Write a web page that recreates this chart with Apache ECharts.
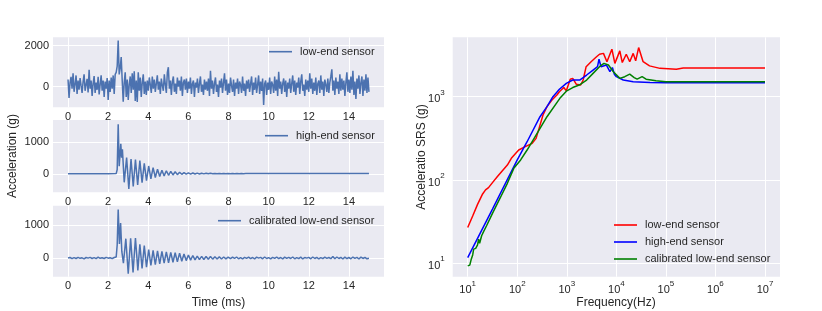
<!DOCTYPE html>
<html><head><meta charset="utf-8">
<script src="https://cdn.jsdelivr.net/npm/echarts@6/dist/echarts.min.js"></script>
<style>html,body{margin:0;padding:0;background:#fff}#c{width:822px;height:311px}</style>
</head><body><div id="c"></div>
<script>
// ---------- data ----------
const timeTicks = [0, 2, 4, 6, 8, 10, 12, 14];
const lowTicks = [0, 2000];
const highTicks = [0, 1000];
const calTicks = [0, 1000];
const freqExpTicks = [1, 2, 3, 4, 5, 6, 7];
const accExpTicks = [1, 2, 3];

// low-end sensor, sampled every 0.05 ms from 0 to 15 ms
const lowStep = 0.05;
const lowEnd = [
  350, -550, 200, 480, -100, 650, -250, 120, 550, -350, 300, -150, 420, 50, -300, 250, 600, -200, 100, 380,
  -280, 820, -100, 300, -450, 150, 520, -300, 200, -150, 480, -380, 100, 560, -200, 300, -500, 250, -100, 420,
  -650, 300, -250, 450, -100, 550, -350, 600, 700, 1000, 2250, 600, 900, 1450, 300, -730, 200, 700, -500, 350,
  -650, 100, 500, -300, 650, -150, 750, -700, 300, -750, 700, -200, 450, -500, 200, 600, -350, 250, -400, 300,
  -200, 450, 100, -300, 500, -100, 350, -250, 150, 550, -150, 250, -350, 400, 50, -200, 600, 100, -300, 700,
  950, -100, 300, -400, 250, 500, -250, 150, -350, 450, 0, 300, -200, 500, -450, 200, 350, -150, 400, -300,
  250, -100, 450, -350, 150, 300, -500, 200, -50, 400, -300, 150, 500, -250, 100, -400, 350, -150, 250, -200,
  400, -450, 780, -100, 300, -350, 150, 450, -250, 100, -500, 300, -50, 400, -300, 200, 650, -200, 350, -400,
  150, -300, 450, 50, -250, 350, -450, 200, -100, 400, -350, 250, 100, -300, 500, -200, 150, -450, 300, -100,
  350, -250, 150, 500, -400, 200, -150, 450, -300, 100, 550, -350, 250, -200, 400, -890, 150, 300, -400, 200,
  -150, 450, -350, 250, 100, -300, 500, -200, 350, -450, 730, -100, 250, -350, 150, 400, -250, 300, -500, 200,
  -100, 400, -300, 150, 550, -250, 300, -400, 200, -50, 450, -350, 250, 600, -200, 100, -450, 350, -150, 300,
  -250, 650, -100, 400, -350, 200, -200, 450, -400, 150, 300, -300, 550, -150, 250, -450, 350, 100, -250, 400,
  -300, 200, 500, 850, -200, 300, -400, 450, -100, 250, -350, 600, -200, 400, -150, 300, -450, 200, 700, -250,
  350, -300, 500, -150, 780, -400, 250, -600, 400, -100, 550, -350, 200, 500, -450, 350, -200, 600, -300, 450,
  -250
];

// high-end sensor (time ms, acceleration g)
const highTime = [0, 0.5, 1, 1.5, 2, 2.4, 2.45, 2.50, 2.55, 2.63, 2.67, 2.71, 2.80, 2.92, 3.03, 3.14, 3.25, 3.36, 3.47, 3.58,
  3.69, 3.80, 3.91, 4.02, 4.13, 4.24, 4.35, 4.46, 4.57, 4.68, 4.79, 4.90, 5.01, 5.12, 5.23, 5.34, 5.45, 5.56, 5.67, 5.78,
  5.89, 6.00, 6.11, 6.22, 6.33, 6.44, 6.55, 6.66, 6.77, 6.88, 6.99, 7.10, 7.21, 7.32, 7.43, 7.54, 7.65, 7.76, 7.87, 7.98,
  8.09, 8.20, 8.31, 8.42, 8.53, 8.64, 8.75, 8.86, 9.0, 10, 11, 12, 13, 14, 15];
const highAcc = [20, 20, 20, 20, 20, 22, 150, 1560, 250, 950, 520, 780, -250, 520, -460, 480, -380, 460, -330, 430,
  -260, 340, -200, 260, -140, 210, -100, 160, -70, 130, -50, 110, -30, 90, -20, 80, -10, 65, 0, 55,
  5, 48, 8, 42, 10, 38, 12, 34, 14, 32, 15, 30, 16, 28, 17, 27, 18, 26, 19, 25,
  19, 24, 20, 24, 20, 23, 21, 23, 22, 22, 22, 22, 22, 22, 22];

// calibrated low-end sensor (time ms, acceleration g)
const calTime = [0, 0.1, 0.2, 0.3, 0.4, 0.5, 0.6, 0.7, 0.8, 0.9, 1.0, 1.1, 1.2, 1.3, 1.4, 1.5, 1.6, 1.7, 1.8, 1.9, 2.0, 2.1, 2.2, 2.3,
  2.40, 2.45, 2.50, 2.56, 2.62, 2.68, 2.76, 2.88, 3.00, 3.12, 3.24, 3.36, 3.48, 3.58, 3.69, 3.80, 3.91,
  4.02, 4.13, 4.24, 4.35, 4.46, 4.57, 4.68, 4.79, 4.90, 5.01, 5.12, 5.23, 5.34, 5.45, 5.56, 5.67, 5.78, 5.89, 6.00, 6.11,
  6.22, 6.33, 6.44, 6.55, 6.66, 6.77, 6.88, 6.99, 7.10, 7.21, 7.32, 7.43, 7.54, 7.65, 7.76, 7.87, 7.98,
  8.1, 8.2, 8.3, 8.4, 8.5, 8.6, 8.7, 8.8, 8.9, 9.0, 9.1, 9.2, 9.3, 9.4, 9.5, 9.6, 9.7, 9.8, 9.9, 10.0,
  10.1, 10.2, 10.3, 10.4, 10.5, 10.6, 10.7, 10.8, 10.9, 11.0, 11.1, 11.2, 11.3, 11.4, 11.5, 11.6, 11.7, 11.8, 11.9, 12.0,
  12.1, 12.2, 12.3, 12.4, 12.5, 12.6, 12.7, 12.8, 12.9, 13.0, 13.1, 13.2, 13.3, 13.4, 13.5, 13.6, 13.7, 13.8, 13.9, 14.0,
  14.1, 14.2, 14.3, 14.4, 14.5, 14.6, 14.7, 14.8, 14.9, 15.0];
const calAcc = [0, 15, -20, 10, -15, 20, -10, 5, -25, 15, -5, 20, -15, 10, -20, 25, -10, 5, -15, 20, -5, 10, -20, 15,
  30, 400, 1480, 430, 1070, 200, -160, 590, -480, 600, -440, 610, -380, 420, -320, 380, -280,
  260, -230, 230, -200, 220, -180, 200, -160, 190, -150, 170, -130, 160, -120, 150, -100, 120, -80, 90, -65,
  75, -55, 60, -50, 50, -45, 45, -40, 45, -35, 40, -30, 35, -30, 30, -25, 25,
  -20, 25, -15, 30, -25, 10, -30, 20, -10, 25, -20, 15, -30, 25, -5, 20, -25, 30, -15, 10,
  -25, 20, -10, 30, -20, 15, -30, 25, -10, 20, -15, 30, -25, 10, -20, 25, -30, 15, -5, 20,
  -25, 30, -15, 20, -30, 10, -20, 25, -10, 15, -20, 45, -25, 30, -15, 20, -30, 25, -20, 15,
  -25, 30, -10, 20, -30, 25, -15, 20, -25, -10];

// shock response spectra (frequency Hz, acceleration g)
const srsLowFreq = [10, 12.6, 15.8, 20, 22.9, 26.3, 31.6, 39.8, 50.1, 63.1, 75.9, 93.3, 107, 117, 145, 200, 240, 282, 331, 398,
  501, 631, 708, 871, 977, 1175, 1318, 1549, 1905, 2138, 2455, 3090, 3981, 4571, 5495, 6457, 8128, 9333, 11749, 13183,
  15849, 18621, 21878, 24547, 28184, 34674, 46774, 75858, 162181, 223872, 1e6, 1e7];
const srsLowAcc = [26.9, 37, 51, 68, 76, 81, 93, 110, 129, 151, 182, 209, 229, 219, 251, 275, 316, 437, 603, 759,
  912, 1047, 1148, 1288, 1175, 1622, 1660, 1413, 1380, 1585, 2291, 2630, 3020, 3236, 3311, 2630, 3715, 2512, 3548, 2570,
  3236, 2630, 3311, 2692, 3890, 2630, 2344, 2188, 2138, 2213, 2208, 2208];
const srsHighFreq = [10, 31.6, 100, 158, 288, 398, 525, 708, 977, 1318, 1820, 2512, 3388, 4169, 4467, 4898, 6310, 7413, 8318, 9120,
  10000, 13804, 21878, 47863, 1e5, 1e7];
const srsHighAcc = [11.7, 44.7, 174, 288, 575, 759, 1000, 1230, 1445, 1585, 1585, 1820, 2089, 2291, 2818, 2291, 2399, 1995, 2239, 1862,
  1738, 1585, 1514, 1479, 1472, 1472];
const srsCalFreq = [10, 11, 11.7, 12.6, 13.2, 14.5, 15.8, 16.6, 17.4, 19.1, 20.9, 24, 31.6, 45.7, 63.1, 85.1, 117, 158, 219, 398,
  724, 1000, 1318, 1778, 2512, 3388, 4571, 5623, 6918, 8710, 11749, 14791, 18621, 22909, 26303, 33113, 39811, 50119, 63096, 1e5, 1e7];
const srsCalAcc = [9.3, 9.5, 11, 12.6, 14.8, 15.1, 16.6, 19.5, 17.4, 21.4, 24, 28.2, 39.8, 61.7, 91.2, 138, 174, 229, 316, 575,
  955, 1175, 1288, 1380, 1585, 1905, 2291, 2512, 2399, 1995, 1660, 1738, 1862, 1698, 1622, 1738, 1622, 1585, 1549, 1514, 1514];

const labels = {
  p1: 'low-end sensor', p2: 'high-end sensor', p3: 'calibrated low-end sensor',
  r1: 'low-end sensor', r2: 'high-end sensor', r3: 'calibrated low-end sensor'
};

// ---------- build ----------
const FONT = "'Liberation Sans', Arial, sans-serif";
const TXT = '#262626';
const BLUE = '#4c72b0';
const BG = '#eaeaf2';

const pairs = (xs, ys) => xs.map((x, i) => [x, ys[i]]);
const logPairs = (xs, ys) => xs.map((x, i) => [Math.log10(x), Math.log10(ys[i])]);
const lowData = lowEnd.map((v, i) => [i * lowStep, v]);

const split = { show: true, lineStyle: { color: '#ffffff', width: 1 } };
const lab = { fontSize: 11, color: TXT, fontFamily: FONT, formatter: v => String(v) };

function timeAxis(gi) {
  return { type: 'value', gridIndex: gi, min: -0.75, max: 15.75,
    axisLine: { show: false }, axisTick: { show: false, customValues: timeTicks },
    axisLabel: Object.assign({ customValues: timeTicks, margin: 4 }, lab), splitLine: split };
}
function accAxis(gi, min, max, ticks) {
  return { type: 'value', gridIndex: gi, min: min, max: max,
    axisLine: { show: false }, axisTick: { show: false, customValues: ticks },
    axisLabel: Object.assign({ customValues: ticks, margin: 4 }, lab), splitLine: split };
}
const supRich = {
  b: { fontSize: 11, color: TXT, fontFamily: FONT, verticalAlign: 'bottom', lineHeight: 16 },
  s: { fontSize: 8, color: TXT, fontFamily: FONT, verticalAlign: 'top', lineHeight: 16 }
};
const supFmt = v => '{b|10}{s|' + Math.round(v) + '}';

function legend(name, left, top) {
  return { data: [name], left: left, top: top, padding: 0, icon: 'rect', itemWidth: 23, itemHeight: 1.6,
    formatter: n => labels[n], selectedMode: false,
    textStyle: { fontSize: 11, color: TXT, fontFamily: FONT, lineHeight: 13, padding: [0, 0, 0, 3] } };
}

const lineSeries = (name, xi, data, color, w) => ({
  name: name, type: 'line', xAxisIndex: xi, yAxisIndex: xi, data: data, showSymbol: false, symbol: 'none',
  lineStyle: { color: color, width: w }, itemStyle: { color: color }, animation: false, z: 3
});

const option = {
  backgroundColor: '#ffffff',
  animation: false,
  grid: [
    { left: 53, top: 37.3, width: 331, height: 70, show: true, backgroundColor: BG, borderWidth: 0 },
    { left: 53, top: 120, width: 331, height: 72.3, show: true, backgroundColor: BG, borderWidth: 0 },
    { left: 53, top: 205.7, width: 331, height: 71, show: true, backgroundColor: BG, borderWidth: 0 },
    { left: 452.7, top: 37.3, width: 327.3, height: 239.4, show: true, backgroundColor: BG, borderWidth: 0 }
  ],
  xAxis: [
    timeAxis(0), timeAxis(1), timeAxis(2),
    { type: 'value', gridIndex: 3, min: 0.697, max: 7.303,
      axisLine: { show: false }, axisTick: { show: false, customValues: freqExpTicks },
      axisLabel: { customValues: freqExpTicks, margin: 3, formatter: supFmt, rich: supRich }, splitLine: split }
  ],
  yAxis: [
    accAxis(0, -1005, 2410, lowTicks),
    accAxis(1, -562, 1697, highTicks),
    accAxis(2, -572, 1599, calTicks),
    { type: 'value', gridIndex: 3, min: 0.839, max: 3.713,
      axisLine: { show: false }, axisTick: { show: false, customValues: accExpTicks },
      axisLabel: { customValues: accExpTicks, margin: 8, formatter: supFmt, rich: supRich }, splitLine: split }
  ],
  legend: [
    legend('p1', 269, 45.2),
    legend('p2', 265, 129.2),
    legend('p3', 218, 214.2),
    { data: ['r1', 'r2', 'r3'], orient: 'vertical', left: 614, top: 218.5, itemGap: 4, padding: 0,
      icon: 'rect', itemWidth: 23, itemHeight: 1.6, formatter: n => labels[n], selectedMode: false,
      textStyle: { fontSize: 11, color: TXT, fontFamily: FONT, lineHeight: 13, padding: [0, 0, 0, 3] } }
  ],
  series: [
    lineSeries('p1', 0, lowData, BLUE, 1.5),
    lineSeries('p2', 1, pairs(highTime, highAcc), BLUE, 1.5),
    lineSeries('p3', 2, pairs(calTime, calAcc), BLUE, 1.5),
    lineSeries('r1', 3, logPairs(srsLowFreq, srsLowAcc), '#ff0000', 1.5),
    lineSeries('r2', 3, logPairs(srsHighFreq, srsHighAcc), '#0000ff', 1.5),
    lineSeries('r3', 3, logPairs(srsCalFreq, srsCalAcc), '#008000', 1.5)
  ],
  graphic: [
    { type: 'text', x: 13, y: 156, rotation: Math.PI / 2,
      style: { text: 'Acceleration (g)', fontSize: 12, fontFamily: FONT, fill: TXT, align: 'center', verticalAlign: 'middle' } },
    { type: 'text', x: 218.5, y: 303, style: { text: 'Time (ms)', fontSize: 12, fontFamily: FONT, fill: TXT, align: 'center', verticalAlign: 'middle' } },
    { type: 'text', x: 422, y: 157, rotation: Math.PI / 2,
      style: { text: 'Acceleratio SRS (g)', fontSize: 12, fontFamily: FONT, fill: TXT, align: 'center', verticalAlign: 'middle' } },
    { type: 'text', x: 616, y: 302.5, style: { text: 'Frequency(Hz)', fontSize: 12, fontFamily: FONT, fill: TXT, align: 'center', verticalAlign: 'middle' } }
  ]
};

const chart = echarts.init(document.getElementById('c'), null, { renderer: 'canvas' });
chart.setOption(option);
</script>
</body></html>
